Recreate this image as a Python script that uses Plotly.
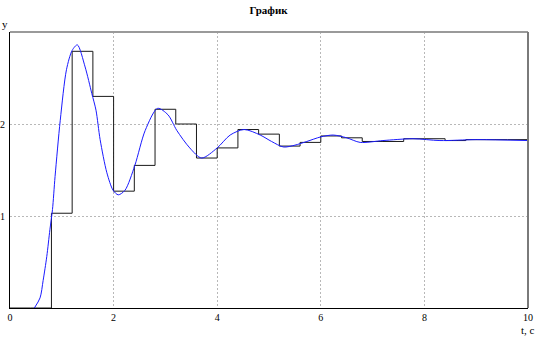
import plotly.graph_objects as go

# Continuous response (blue)
t_curve = [0.47, 0.58, 0.64, 0.71, 0.77, 0.82, 0.87, 0.97, 1.09, 1.2, 1.3, 1.45, 1.58, 1.66, 1.74,
           1.87, 1.99, 2.09, 2.22, 2.41, 2.61, 2.85, 3.05, 3.22, 3.47, 3.70, 4.0, 4.25, 4.52,
           4.83, 5.05, 5.28, 5.5, 5.73, 6.0, 6.24, 6.5, 6.76, 7.2, 7.78, 8.3, 9.0, 10]
y_curve = [0, 0.11, 0.30, 0.56, 0.85, 1.07, 1.43, 2.04, 2.59, 2.80, 2.86, 2.62, 2.33, 2.15, 1.83,
           1.47, 1.28, 1.23, 1.28, 1.55, 1.93, 2.17, 2.10, 1.93, 1.74, 1.63, 1.74, 1.88, 1.94,
           1.88, 1.81, 1.75, 1.77, 1.81, 1.86, 1.88, 1.85, 1.80, 1.82, 1.84, 1.82, 1.83, 1.82]

# Sampled (zero-order hold) signal, black
t_steps = [0, 0.4, 0.8, 1.2, 1.6, 2.0, 2.4, 2.8, 3.2, 3.6, 4.0, 4.4, 4.8, 5.2, 5.6, 6.0, 6.4,
           6.8, 7.2, 7.6, 8.0, 8.4, 8.8, 9.2, 9.6, 10.0]
y_steps = [0, 0, 1.03, 2.79, 2.30, 1.27, 1.55, 2.16, 2.00, 1.63, 1.74, 1.94, 1.89, 1.76, 1.80,
           1.87, 1.85, 1.81, 1.81, 1.84, 1.84, 1.82, 1.83, 1.83, 1.83, 1.83]

x_ticks = [0, 2, 4, 6, 8, 10]
y_ticks = [1, 2, 3]
y_ticktext = ["1", "2", ""]

fig = go.Figure()
fig.add_trace(go.Scatter(x=t_steps, y=y_steps, mode="lines", line=dict(color="#1a1a1a", width=1, shape="hv"),
                         hoverinfo="skip", showlegend=False))
fig.add_trace(go.Scatter(x=t_curve, y=y_curve, mode="lines",
                         line=dict(color="#1a1aff", width=1, shape="spline", smoothing=0.8),
                         hoverinfo="skip", showlegend=False))

font = dict(family="Liberation Serif, Times New Roman, serif", size=11, color="#000")
fig.update_layout(
    width=537, height=339,
    margin=dict(l=10, r=9, t=32, b=31),
    paper_bgcolor="white", plot_bgcolor="white",
    font=font,
    title=dict(text="<b>График</b>", x=0.5, xanchor="center", y=1 - 10 / 339, yanchor="middle",
               font=dict(family="Liberation Serif, serif", size=11, color="#000")),
    xaxis=dict(range=[0, 10], tickvals=x_ticks, showgrid=True, gridcolor="#b8b8b8", griddash="2px,2px",
               gridwidth=1, zeroline=False, showline=True, linecolor="#000", linewidth=1,
               ticks="", tickfont=dict(family="Liberation Serif, serif", size=10, color="#000"),
               automargin=False, fixedrange=True),
    yaxis=dict(range=[0, 3], tickvals=y_ticks, ticktext=y_ticktext, showgrid=True, gridcolor="#b8b8b8",
               griddash="2px,2px", gridwidth=1, zeroline=False, showline=True, linecolor="#000",
               linewidth=1, ticks="", ticklabelstandoff=2,
               tickfont=dict(family="Liberation Serif, serif", size=10, color="#000"),
               automargin=False, fixedrange=True),
    shapes=[
        dict(type="line", xref="paper", yref="paper", x0=0, x1=1, y0=1, y1=1,
             line=dict(color="#9a9a9a", width=2)),
        dict(type="line", xref="paper", yref="paper", x0=1, x1=1, y0=0, y1=1,
             line=dict(color="#7a7a7a", width=2)),
    ],
    annotations=[
        dict(text="y", xref="paper", yref="paper", x=-5 / 518, y=1 + 8 / 276, xanchor="center",
             yanchor="middle", showarrow=False, font=dict(family="Liberation Serif, serif", size=11)),
        dict(text="t, c", xref="paper", yref="paper", x=1, y=-22 / 276, xanchor="center",
             yanchor="middle", showarrow=False, font=dict(family="Liberation Serif, serif", size=11)),
    ],
)

fig.write_html("out.html")
